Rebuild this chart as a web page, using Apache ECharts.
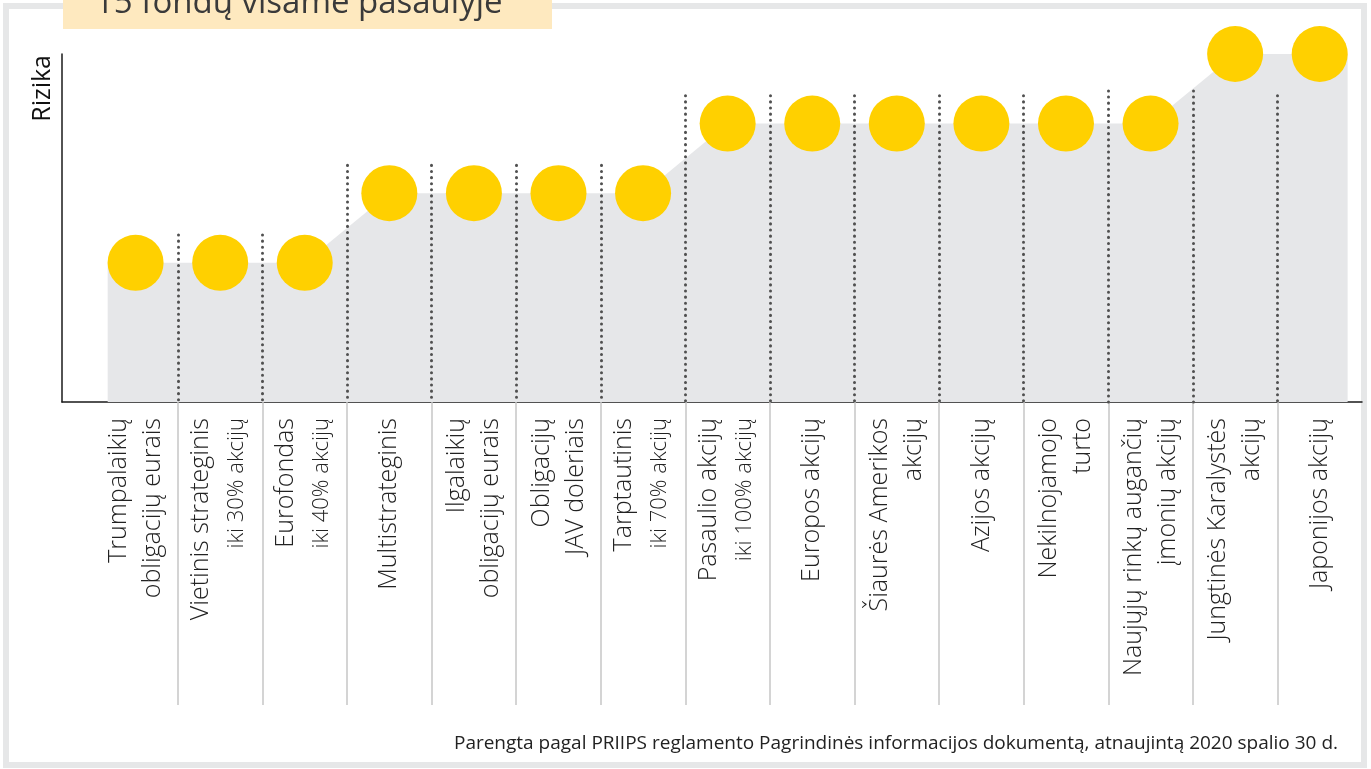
<!DOCTYPE html>
<html>
<head>
<meta charset="utf-8">
<script src="https://cdn.jsdelivr.net/npm/echarts@6/dist/echarts.min.js"></script>
<style>
  html, body { margin: 0; padding: 0; background: #fff; }
  #chart { width: 1371px; height: 769px; }
</style>
</head>
<body>
<div id="chart"></div>
<script>
// fund names (main line) and the smaller equity share note under some of them
const fundNames = [
    'Trumpalaikių\nobligacijų eurais',
    'Vietinis strateginis',
    'Eurofondas',
    'Multistrateginis',
    'Ilgalaikių\nobligacijų eurais',
    'Obligacijų\nJAV doleriais',
    'Tarptautinis',
    'Pasaulio akcijų',
    'Europos akcijų',
    'Šiaurės Amerikos\nakcijų',
    'Azijos akcijų',
    'Nekilnojamojo\nturto',
    'Naujųjų rinkų augančių\nįmonių akcijų',
    'Jungtinės Karalystės\nakcijų',
    'Japonijos akcijų'
];
const equityNotes = ['', 'iki 30% akcijų', 'iki 40% akcijų', '', '', '', 'iki 70% akcijų', 'iki 100% akcijų', '', '', '', '', '', '', ''];

// risk level of each fund
const riskLevels = [2, 2, 2, 3, 3, 3, 3, 4, 4, 4, 4, 4, 4, 5, 5];

// how high the dotted separators between funds reach
const dividerTops = [2.4, 2.4, 3.4, 3.4, 3.4, 3.4, 4.4, 4.4, 4.4, 4.4, 4.4, 4.47, 4.47, 4.4];

const footnote = 'Parengta pagal PRIIPS reglamento Pagrindinės informacijos dokumentą, atnaujintą 2020 spalio 30 d.';
const title = '15 fondų visame pasaulyje';

const pad = 0.33; // grey area sticks out a bit past first/last fund
const idx = fundNames.map((_, i) => i);
const dividers = idx.slice(1).map(i => i - 0.5);

const areaData = [[-pad, riskLevels[0]]]
    .concat(riskLevels.map((v, i) => [i, v]))
    .concat([[riskLevels.length - 1 + pad, riskLevels[riskLevels.length - 1]]]);

const font = '"Open Sans", "Noto Sans", sans-serif';

var myChart = echarts.init(document.getElementById('chart'));
var option = {
    animation: false,
    backgroundColor: '#fff',
    grid: { left: 62, right: 9, top: 54, bottom: 367 },
    xAxis: {
        type: 'value',
        min: -0.87,
        max: 14.5,
        axisLine: { show: true, lineStyle: { color: '#1a1a1a', width: 1.5 } },
        splitLine: { show: false },
        axisTick: {
            show: true,
            customValues: dividers,
            length: 303,
            lineStyle: { color: '#c6c6c6', width: 1.5 }
        },
        axisLabel: {
            customValues: idx,
            rotate: 90,
            margin: 16,
            fontFamily: font,
            fontWeight: 300,
            fontSize: 25,
            lineHeight: 34,
            color: '#222',
            formatter: function (v) {
                var i = Math.round(v);
                var s = fundNames[i];
                if (equityNotes[i]) s += '\n{s|' + equityNotes[i] + '}';
                return s;
            },
            rich: {
                s: { fontFamily: font, fontWeight: 300, fontSize: 22, lineHeight: 38, color: '#222' }
            }
        }
    },
    yAxis: {
        type: 'value',
        min: 0,
        max: 5,
        axisLine: { show: true, onZero: false, lineStyle: { color: '#1a1a1a', width: 1.5 } },
        axisTick: { show: false },
        axisLabel: { show: false },
        splitLine: { show: false }
    },
    series: [
        {
            type: 'line',
            data: areaData,
            showSymbol: false,
            silent: true,
            lineStyle: { width: 0, opacity: 0 },
            areaStyle: { color: '#e6e7e9', opacity: 1 },
            z: 1
        },
        {
            type: 'line',
            data: [],
            silent: true,
            z: 2,
            markLine: {
                silent: true,
                symbol: 'none',
                label: { show: false },
                lineStyle: { color: '#505050', width: 3, type: [0.1, 6], cap: 'round' },
                data: dividers.map((x, k) => [{ coord: [x, dividerTops[k]] }, { coord: [x, 0] }])
            }
        },
        {
            type: 'scatter',
            data: riskLevels.map((v, i) => [i, v]),
            symbolSize: 56,
            itemStyle: { color: '#ffd000', opacity: 1 },
            silent: true,
            z: 3
        }
    ],
    graphic: [
        {
            type: 'rect',
            shape: { x: 6, y: 6, width: 1358, height: 759 },
            style: { fill: 'none', stroke: '#e6e7e8', lineWidth: 6 },
            z: 0
        },
        {
            type: 'rect',
            shape: { x: 63, y: 0, width: 489, height: 29 },
            style: { fill: '#fee9bf' },
            z: 1
        },
        {
            type: 'text',
            x: 95, y: 20,
            style: { text: title, font: '33px ' + font, fill: '#3a3a3a', textAlign: 'left', textVerticalAlign: 'bottom' },
            z: 2
        },
        {
            type: 'text',
            x: 55, y: 55,
            rotation: Math.PI / 2,
            style: { text: 'Rizika', font: '25px ' + font, fill: '#111', textAlign: 'right', textVerticalAlign: 'bottom' },
            z: 2
        },
        {
            type: 'text',
            x: 1338, y: 744,
            style: { text: footnote, font: '19px ' + font, fill: '#222', textAlign: 'right', textVerticalAlign: 'middle' },
            z: 2
        }
    ]
};
myChart.setOption(option);

window.addEventListener('resize', function () {
    myChart.resize();
});
</script>
</body>
</html>
